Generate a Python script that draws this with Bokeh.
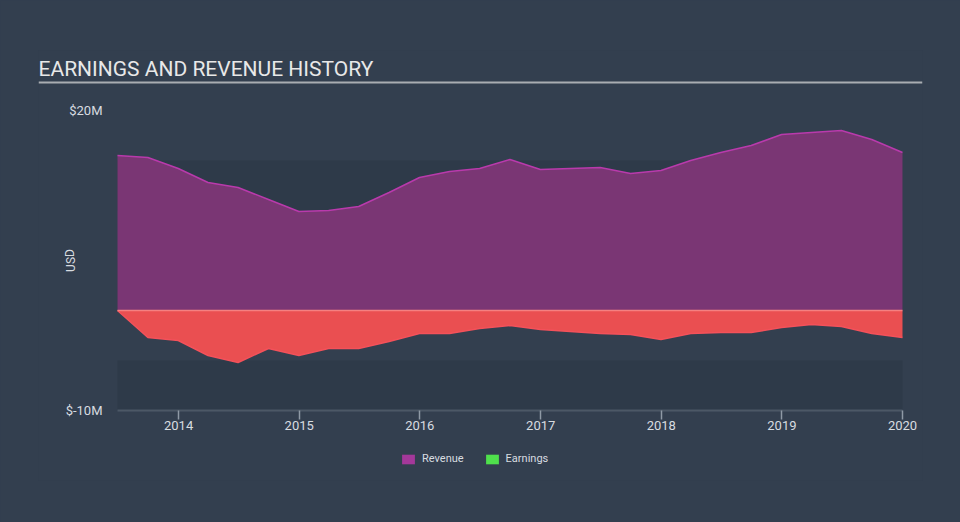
import pandas as pd
from bokeh.plotting import figure
from bokeh.models import (Label, BoxAnnotation, Span, Legend, LegendItem, FixedTicker,
                          DatetimeTickFormatter, ColumnDataSource, Range1d)
from bokeh.embed import file_html
from bokeh.resources import INLINE

# ---- data (USD millions), quarterly ----
dates = ["2013-06-30", "2013-09-30", "2013-12-31", "2014-03-31", "2014-06-30", "2014-09-30",
         "2014-12-31", "2015-03-31", "2015-06-30", "2015-09-30", "2015-12-31", "2016-03-31",
         "2016-06-30", "2016-09-30", "2016-12-31", "2017-03-31", "2017-06-30", "2017-09-30",
         "2017-12-31", "2018-03-31", "2018-06-30", "2018-09-30", "2018-12-31", "2019-03-31",
         "2019-06-30", "2019-09-30", "2020-01-01"]
revenue = [15.5, 15.3, 14.2, 12.8, 12.3, 11.1, 9.9, 10.0, 10.4, 11.8, 13.3, 13.9,
           14.2, 15.1, 14.1, 14.2, 14.3, 13.7, 14.0, 15.0, 15.8, 16.5, 17.6, 17.8,
           18.0, 17.1, 15.8]
earnings = [0.0, -2.7, -3.0, -4.5, -5.2, -3.8, -4.5, -3.8, -3.8, -3.1, -2.3, -2.3,
            -1.8, -1.5, -1.9, -2.1, -2.3, -2.4, -2.9, -2.3, -2.2, -2.2, -1.7, -1.4,
            -1.6, -2.3, -2.7]
y_ticks = [-10, 20]
y_tick_labels = ["$-10M", "$20M"]
x_tick_years = [2014, 2015, 2016, 2017, 2018, 2019, 2020]
series_names = ["Revenue", "Earnings"]
title_text = "EARNINGS AND REVENUE HISTORY"
y_unit = "USD"

BG = "#333f4f"
BAND = "#2e3a49"
TXT = "#d8dce0"

x = pd.to_datetime(dates)
x0, x1 = x[0], x[-1]
src = ColumnDataSource(dict(x=x, rev=revenue, earn=earnings, zero=[0.0] * len(dates)))

# frame spans 38..922 px horizontally (title width) and 50..480 px vertically;
# the data area occupies 117..902 px and -10..20 (410..110 px)
px_per_day = 785.0 / (x1 - x0).days
pad_l = pd.Timedelta(days=79 / px_per_day)
pad_r = pd.Timedelta(days=20 / px_per_day)

p = figure(width=960, height=522, output_backend="svg", toolbar_location=None,
           x_axis_type="datetime",
           x_range=Range1d(x0 - pad_l, x1 + pad_r),
           y_range=Range1d(-17, 26),
           min_border_left=38, min_border_right=38, min_border_top=50,
           min_border_bottom=42)
p.background_fill_color = BG
p.border_fill_color = BG
p.outline_line_color = None
p.styles = {"background-color": BG}
p.xgrid.visible = False
p.ygrid.visible = False

# alternating bands inside the data area
for top, bottom in [(15, 10), (5, 0), (-5, -10)]:
    p.add_layout(BoxAnnotation(top=top, bottom=bottom, left=x0, right=x1,
                               fill_color=BAND, fill_alpha=1.0, line_color=None,
                               level="underlay"))

p.varea(x="x", y1="zero", y2="rev", source=src, fill_color="#7a3674")
p.line(x="x", y="rev", source=src, line_color="#b93aac", line_width=1.5)
p.varea(x="x", y1="earn", y2="zero", source=src, fill_color="#ea4f51")
p.line(x="x", y="earn", source=src, line_color="#f4515a", line_width=1.5)
p.line(x="x", y="zero", source=src, line_color="#f58080", line_width=1.5)

# x axis line only under the data area
p.add_layout(BoxAnnotation(top=-10, bottom=-10, left=x0, right=x1,
                           fill_alpha=0, line_color="#8f9aa6", line_width=2))

# axes
xa = p.xaxis[0]
xa.fixed_location = -10
xa.ticker = FixedTicker(ticks=[pd.Timestamp(f"{y}-01-01").value / 1e6 for y in x_tick_years])
xa.formatter = DatetimeTickFormatter(years="%Y", months="%Y", days="%Y", hours="%Y")
xa.axis_line_color = None
xa.major_tick_line_color = "#8f9aa6"
xa.major_tick_line_width = 1.5
xa.major_tick_out = 9
xa.major_tick_in = 0
xa.minor_tick_line_color = None
xa.major_label_text_color = TXT
xa.major_label_text_font = "Roboto"
xa.major_label_text_font_size = "13px"
xa.major_label_standoff = 1

ya = p.yaxis[0]
ya.fixed_location = x0.value / 1e6
ya.ticker = FixedTicker(ticks=y_ticks)
ya.major_label_overrides = {t: l for t, l in zip(y_ticks, y_tick_labels)}
ya.axis_line_color = None
ya.major_tick_line_color = None
ya.major_tick_out = 0
ya.major_tick_in = 0
ya.minor_tick_line_color = None
ya.major_label_text_color = TXT
ya.major_label_text_font = "Roboto"
ya.major_label_text_font_size = "13px"
ya.major_label_standoff = 15

# title, underline, unit label (inside the frame)
p.add_layout(Label(x=0, y=412, x_units="screen", y_units="screen", text=title_text,
                   text_font="Roboto", text_font_size="21px", text_color="#e8e8e8",
                   text_baseline="alphabetic"))
p.add_layout(Span(location=22.8, dimension="width", line_color="#a9adb2", line_width=2))
p.add_layout(Label(x=32, y=220, x_units="screen", y_units="screen", text=y_unit,
                   angle=1.5708, text_font="Roboto", text_font_size="12px",
                   text_color=TXT, text_align="center", text_baseline="middle"))

# legend with colour swatches (zero-height, invisible areas used only for the key)
r_rev = p.varea(x="x", y1="zero", y2="zero", source=src, fill_color="#a4389a",
                level="underlay")
r_earn = p.varea(x="x", y1="zero", y2="zero", source=src, fill_color="#4fe04c",
                 level="underlay")
legend = Legend(items=[LegendItem(label=series_names[0], renderers=[r_rev]),
                       LegendItem(label=series_names[1], renderers=[r_earn])],
                location=(362, 15), orientation="horizontal",
                background_fill_alpha=0, border_line_color=None,
                label_text_color=TXT, label_text_font="Roboto",
                label_text_font_size="11px", glyph_width=16, glyph_height=12,
                spacing=20, padding=0, margin=0, label_standoff=6)
p.add_layout(legend, "center")

open("out.html", "w").write(file_html(p, INLINE))
